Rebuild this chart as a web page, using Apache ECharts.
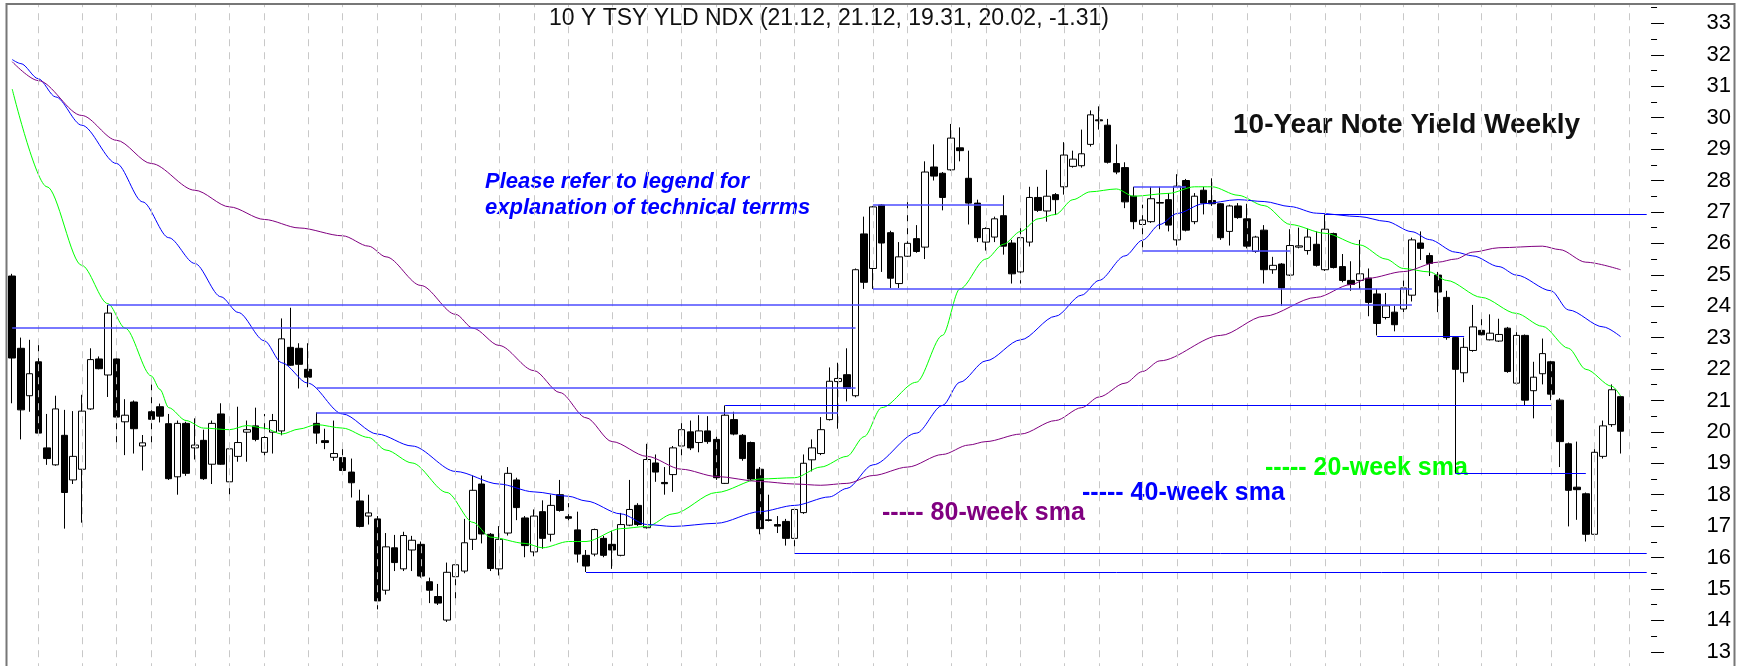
<!DOCTYPE html>
<html>
<head>
<meta charset="utf-8">
<title>10-Year Note Yield Weekly</title>
<script src="https://cdn.jsdelivr.net/npm/echarts@6/dist/echarts.min.js"></script>
<style>
    html, body { margin: 0; padding: 0; background: #fff; }
    #chart { width: 1737px; height: 666px; }
</style>
</head>
<body>
<div id="chart"></div>
<script>
// weekly bars, the first one is the week ending 2011-08-12
let firstWeek = Date.UTC(2011, 7, 12)
let emptyWeeks = 3 // free slots right of the last bar

let opens = [
    24.96, 22.66, 21.15, 22.23, 19.49, 18.95, 19.89, 18.47, 18.81, 20.73,
    22.32, 21.81, 22.32, 20.32, 20.95, 19.55, 20.64, 20.80, 20.26, 18.57,
    20.27, 19.49, 19.73, 18.97, 20.57, 18.41, 19.22, 19.99, 20.19, 19.35,
    19.99, 20.03, 22.69, 22.66, 21.99, 20.27, 19.72, 19.19, 19.18, 18.72,
    17.80, 17.32, 17.23, 14.96, 16.31, 15.64, 16.24, 16.42, 15.23, 14.76,
    14.01, 15.39, 15.57, 16.58, 18.34, 16.74, 15.64, 16.78, 18.47, 17.26,
    16.18, 17.46, 16.74, 18.00, 17.30, 16.88, 16.07, 16.11, 16.61, 16.42,
    16.07, 17.03, 17.66, 16.95, 19.01, 18.39, 18.64, 19.55, 20.00, 19.66,
    20.03, 19.76, 18.36, 20.39, 19.89, 19.66, 18.81, 17.20, 17.05, 17.15,
    16.61, 17.43, 19.11, 19.31, 20.39, 21.60, 21.82, 21.15, 26.30, 25.20,
    27.22, 26.34, 24.72, 25.59, 26.15, 25.88, 28.43, 28.23, 28.34, 29.04,
    28.07, 27.28, 26.04, 26.20, 26.88, 26.01, 25.09, 26.04, 27.46, 27.03,
    27.55, 27.80, 28.45, 28.47, 29.15, 29.93, 29.76, 28.54, 28.41, 27.50,
    26.60, 26.69, 27.28, 27.39, 26.11, 28.00, 26.69, 27.69, 27.36, 27.26,
    26.38, 27.19, 26.78, 25.74, 26.42, 25.16, 25.34, 24.99, 25.88, 25.77,
    25.97, 25.16, 26.31, 25.26, 24.82, 24.82, 24.89, 24.39, 23.64, 23.81,
    23.91, 24.35, 26.01, 25.61, 24.99, 24.28, 23.00, 21.88, 22.59, 23.23,
    22.93, 22.89, 23.30, 21.55, 23.07, 21.31, 21.85, 22.23, 21.01, 19.62,
    18.24, 18.03, 16.74, 19.22, 20.23, 21.12
]
let highs = [
    25.03, 23.00, 22.93, 22.93, 20.57, 21.15, 20.70, 20.66, 21.18, 22.66,
    22.40, 24.04, 22.35, 21.04, 21.00, 19.90, 21.51, 20.90, 20.57, 20.36,
    20.32, 20.43, 20.07, 20.36, 20.91, 19.55, 20.80, 20.36, 20.77, 20.57,
    20.57, 23.61, 23.95, 22.82, 22.82, 20.62, 20.10, 20.36, 19.58, 19.15,
    18.16, 18.00, 17.32, 16.78, 16.72, 16.82, 16.69, 16.51, 15.36, 15.16,
    15.84, 15.90, 17.23, 18.61, 18.61, 16.78, 17.00, 18.88, 18.54, 17.32,
    17.53, 17.82, 18.00, 18.47, 17.73, 17.46, 16.24, 16.92, 16.69, 16.85,
    17.42, 18.47, 17.73, 19.62, 19.28, 18.88, 19.55, 20.34, 20.36, 20.53,
    20.50, 19.85, 20.84, 20.64, 19.93, 19.69, 18.88, 18.00, 17.32, 17.23,
    17.55, 19.28, 19.76, 20.47, 22.05, 22.20, 22.66, 25.20, 26.85, 27.19,
    27.25, 26.40, 26.04, 27.32, 26.58, 28.61, 29.15, 28.27, 29.80, 29.69,
    28.95, 27.39, 26.51, 26.85, 27.53, 26.11, 26.60, 27.80, 27.80, 28.34,
    27.60, 29.22, 28.95, 29.62, 30.23, 30.36, 29.96, 29.15, 28.58, 27.80,
    27.23, 27.80, 27.80, 27.60, 28.20, 28.05, 27.60, 27.80, 28.07, 27.28,
    27.23, 27.28, 27.26, 26.24, 26.58, 25.57, 25.37, 26.45, 26.50, 26.47,
    26.38, 26.92, 26.34, 25.66, 25.43, 26.11, 25.20, 24.55, 24.42, 24.01,
    24.82, 26.18, 26.38, 25.70, 25.09, 24.49, 23.05, 23.00, 24.04, 23.74,
    23.74, 23.60, 23.34, 23.31, 23.10, 22.23, 22.97, 22.26, 21.07, 19.66,
    19.69, 18.07, 19.49, 20.36, 21.51, 21.12
]
let lows = [
    20.91, 19.76, 20.64, 19.93, 18.95, 18.92, 16.92, 18.34, 17.11, 20.70,
    21.99, 21.11, 19.55, 19.26, 19.31, 18.77, 19.49, 20.30, 18.47, 18.00,
    18.60, 19.12, 18.47, 18.34, 18.95, 17.96, 19.05, 19.05, 19.70, 19.05,
    19.31, 19.89, 22.10, 21.38, 21.42, 19.62, 19.45, 19.08, 18.72, 17.91,
    16.96, 17.05, 14.35, 14.82, 15.57, 15.57, 15.57, 15.36, 14.55, 14.49,
    13.95, 14.49, 15.50, 16.24, 16.45, 15.57, 15.43, 16.70, 17.19, 16.01,
    16.04, 16.28, 16.51, 17.46, 16.99, 15.84, 15.54, 16.04, 16.01, 15.64,
    16.04, 17.00, 17.00, 16.92, 18.41, 18.00, 18.09, 19.22, 19.42, 19.35,
    19.62, 18.47, 18.34, 19.89, 19.08, 18.47, 16.74, 17.15, 16.78, 16.38,
    16.14, 17.39, 18.74, 19.26, 20.36, 20.10, 20.97, 21.10, 24.55, 24.55,
    25.09, 24.58, 24.58, 25.57, 25.70, 25.50, 28.00, 27.05, 28.31, 28.61,
    26.60, 26.04, 25.77, 26.04, 25.64, 24.72, 24.72, 25.90, 27.00, 26.69,
    26.90, 27.55, 28.41, 28.41, 29.08, 29.62, 28.54, 28.20, 27.12, 26.45,
    25.77, 26.65, 26.45, 26.38, 25.93, 26.38, 26.61, 26.92, 27.19, 26.11,
    25.93, 26.78, 25.84, 25.70, 24.72, 25.03, 24.01, 24.96, 25.84, 25.64,
    25.26, 25.12, 25.20, 24.76, 24.49, 24.55, 23.68, 23.07, 23.58, 23.20,
    23.81, 24.15, 25.47, 24.96, 23.81, 22.93, 18.68, 21.58, 22.55, 23.07,
    22.91, 22.86, 21.88, 21.51, 20.84, 20.43, 21.51, 21.01, 18.88, 16.99,
    17.20, 16.51, 16.55, 19.15, 20.16, 19.31
]
let closes = [
    22.35, 20.70, 21.85, 19.96, 19.15, 20.73, 18.07, 19.22, 20.66, 22.30,
    22.01, 23.78, 20.47, 20.53, 20.10, 19.65, 20.40, 20.50, 18.51, 20.27,
    18.68, 19.58, 18.51, 20.27, 18.97, 19.46, 19.66, 20.07, 19.76, 19.82,
    20.36, 22.96, 22.12, 22.15, 21.74, 19.96, 19.66, 19.31, 18.77, 18.38,
    16.99, 17.42, 14.62, 16.34, 15.84, 16.70, 16.55, 15.41, 14.96, 14.55,
    15.53, 15.77, 16.47, 18.14, 16.75, 15.65, 16.58, 18.68, 17.59, 16.38,
    17.32, 16.61, 17.66, 17.50, 17.25, 16.11, 15.73, 16.89, 16.07, 16.24,
    17.05, 17.53, 17.05, 19.12, 18.72, 18.35, 19.49, 20.07, 19.49, 20.03,
    19.69, 18.54, 20.53, 19.93, 19.15, 18.50, 16.92, 17.18, 17.00, 16.61,
    17.53, 19.00, 19.49, 20.07, 21.61, 21.70, 21.38, 25.16, 24.76, 27.16,
    26.01, 24.89, 25.57, 26.00, 25.74, 28.27, 28.14, 27.46, 29.35, 28.95,
    27.28, 26.18, 26.47, 26.78, 25.91, 25.03, 26.18, 27.46, 27.05, 27.50,
    27.39, 28.81, 28.68, 28.85, 30.09, 29.90, 28.58, 28.27, 27.32, 26.69,
    26.74, 27.42, 27.30, 26.58, 27.82, 26.42, 27.50, 27.28, 27.26, 26.18,
    27.19, 26.82, 25.91, 26.20, 25.16, 25.30, 24.58, 25.93, 25.92, 26.20,
    25.30, 26.45, 25.23, 24.82, 24.69, 25.03, 24.12, 23.45, 24.01, 23.41,
    24.58, 26.11, 25.84, 25.36, 24.45, 23.00, 21.99, 22.69, 23.34, 23.09,
    23.14, 23.10, 21.92, 23.07, 21.01, 21.74, 22.49, 21.20, 19.69, 18.14,
    18.16, 16.74, 19.35, 20.19, 21.34, 20.02
]

// moving averages: [bar index, value]
let sma20 = [
    [0, 30.91], [4, 27.8], [8, 25.3], [11, 24.08], [13, 23.3], [16, 21.78], [17, 21.35], [18, 20.77],
    [20, 20.36], [22, 20.12], [25, 20.07], [27, 20.2], [29, 20.12], [31, 19.93], [33, 20.09], [35, 20.23],
    [38, 20.12], [41, 19.82], [43, 19.42], [46, 19.01], [50, 18.07], [53, 17.12], [55, 16.65], [59, 16.45],
    [61, 16.31], [64, 16.51], [66, 16.51], [70, 16.92], [73, 16.99], [76, 17.39], [81, 18.07], [86, 18.5],
    [90, 18.54], [93, 18.88], [96, 19.22], [98, 19.85], [100, 20.77], [104, 21.58], [107, 23.07], [109, 24.55],
    [112, 25.5], [114, 25.97], [116, 26.38], [118, 26.78], [120, 26.92], [122, 27.39], [124, 27.64], [127, 27.73],
    [129, 27.5], [133, 27.59], [136, 27.8], [138, 27.8], [141, 27.53], [144, 27.2], [147, 26.6], [151, 26.32],
    [155, 25.95], [158, 25.5], [160, 25.2], [163, 25.09], [165, 24.82], [169, 24.28], [173, 23.77], [176, 23.36],
    [179, 22.66], [181, 21.99], [184, 21.45], [185, 21.14]
]
let sma40 = [
    [0, 31.85], [1, 31.72], [3, 31.24], [5, 30.66], [8, 29.76], [12, 28.54], [15, 27.32], [18, 26.18],
    [21, 25.36], [24, 24.3], [26, 23.8], [29, 22.9], [31, 22.2], [34, 21.55], [38, 20.57], [42, 19.93],
    [46, 19.55], [51, 18.74], [56, 18.34], [60, 18.09], [64, 17.95], [66, 17.8], [70, 17.39], [73, 17.05],
    [76, 16.99], [81, 17.09], [86, 17.46], [90, 17.66], [94, 17.93], [96, 18.2], [99, 18.95], [104, 19.96],
    [107, 20.84], [109, 21.58], [112, 22.26], [116, 22.93], [120, 23.68], [123, 24.35], [125, 24.82], [128, 25.6],
    [130, 26.1], [132, 26.6], [134, 26.95], [137, 27.26], [141, 27.39], [144, 27.33], [147, 27.17], [150, 26.96],
    [155, 26.85], [158, 26.7], [161, 26.37], [163, 26.12], [166, 25.72], [168, 25.6], [171, 25.26], [173, 24.99],
    [177, 24.49], [179, 23.88], [183, 23.34], [185, 23.03]
]
let sma80 = [
    [0, 31.78], [3, 31.18], [8, 30.07], [12, 29.28], [16, 28.54], [21, 27.69], [25, 27.16], [29, 26.76],
    [33, 26.49], [38, 26.24], [41, 25.91], [43, 25.57], [47, 24.66], [51, 23.74], [53, 23.3], [56, 22.75],
    [60, 21.95], [63, 21.25], [66, 20.45], [69, 19.69], [73, 19.22], [77, 18.81], [81, 18.58], [86, 18.42],
    [90, 18.34], [93, 18.3], [96, 18.36], [99, 18.61], [103, 18.88], [107, 19.28], [110, 19.58], [112, 19.69],
    [116, 19.93], [120, 20.36], [123, 20.77], [125, 21.11], [128, 21.55], [130, 21.92], [132, 22.26], [139, 23.07],
    [144, 23.68], [150, 24.28], [154, 24.69], [156, 24.89], [160, 25.1], [164, 25.4], [166, 25.5], [168, 25.72],
    [171, 25.86], [176, 25.91], [178, 25.8], [181, 25.4], [185, 25.16]
]

// support / resistance segments: [from bar, to bar, level]
let lastSlot = opens.length + emptyWeeks - 1
let levelsLight = [
    [0, 97, 23.32], [11, 161, 24.04], [35, 97, 21.39], [35, 95, 20.62],
    [99, 114, 27.22], [99, 161, 24.55], [129, 135, 27.8], [130, 147, 25.77]
]
let levelsDark = [
    [82, 177, 20.84], [66, lastSlot, 15.54], [90, lastSlot, 16.14],
    [151, lastSlot, 26.92], [157, 167, 23.03], [166, 181, 18.68]
]

// y axis range, ticks every unit
let yMin = 12
let yMax = 34
let yStep = 1

let titleText = '10 Y TSY YLD NDX (21.12, 21.12, 19.31, 20.02, -1.31)'
let font = '"Liberation Sans", Arial, sans-serif'

// categories: week-ending dates
let weeks = []
for (let i = 0; i < opens.length + emptyWeeks; i++) {
    weeks.push(new Date(firstWeek + i * 7 * 86400000).toISOString().slice(0, 10))
}

// a dashed grid line on the first week of each month
let monthStarts = []
for (let i = 1; i < weeks.length; i++) {
    if (weeks[i].slice(5, 7) !== weeks[i - 1].slice(5, 7)) monthStarts.push(weeks[i])
}

let candles = opens.map((o, i) => [o, closes[i], lows[i], highs[i]])

function segments(list) {
    return list.map(s => [{ coord: [weeks[s[0]], s[2]] }, { coord: [weeks[s[1]], s[2]] }])
}

function smaSeries(name, data, color) {
    return {
        name: name,
        type: 'line',
        data: data,
        smooth: 0.3,
        smoothMonotone: 'x',
        showSymbol: false,
        silent: true,
        z: 4,
        lineStyle: { color: color, width: 1 }
    }
}

function label(text, x, y, size, color, weight, style, align) {
    return {
        type: 'text',
        x: x,
        y: y,
        silent: true,
        style: {
            text: text,
            fill: color,
            font: (style || 'normal') + ' ' + (weight || 'normal') + ' ' + size + 'px ' + font,
            align: align || 'left',
            verticalAlign: 'middle'
        }
    }
}

let chart = echarts.init(document.getElementById('chart'))

let option = {
    animation: false,
    backgroundColor: '#fff',
    grid: {
        left: 7.85,
        width: 1643.2,
        top: 23.4 - (yMax - 33) * 31.42,
        height: (yMax - yMin) * 31.42,
        containLabel: false,
        outerBoundsMode: 'none'
    },
    xAxis: {
        type: 'category',
        data: weeks,
        boundaryGap: true,
        axisLine: { show: false },
        axisTick: { show: false },
        axisLabel: { show: false },
        splitLine: { show: false }
    },
    yAxis: {
        type: 'value',
        position: 'right',
        min: yMin,
        max: yMax,
        interval: yStep,
        axisLine: { show: false },
        splitLine: { show: false },
        axisTick: { show: true, length: 13, lineStyle: { color: '#000', width: 1 } },
        minorTick: { show: true, splitNumber: 2, length: 6, lineStyle: { color: '#000', width: 1 } },
        axisLabel: {
            margin: 80,
            align: 'right',
            color: '#000',
            fontSize: 22,
            fontFamily: font,
            formatter: function (v) {
                if (v < 13 || v > 33) return ''
                return String(v)
            }
        }
    },
    series: [
        {
            // month grid lines
            type: 'line',
            data: [],
            silent: true,
            z: 1,
            markLine: {
                silent: true,
                animation: false,
                symbol: ['none', 'none'],
                label: { show: false },
                lineStyle: { color: '#c8c8c8', type: [7, 6], width: 1 },
                data: monthStarts.map(w => ({ xAxis: w }))
            }
        },
        {
            name: '10 Y TSY YLD NDX',
            type: 'candlestick',
            data: candles,
            barWidth: 7,
            z: 3,
            silent: true,
            itemStyle: {
                color: '#ffffff',
                color0: '#000000',
                borderColor: '#000000',
                borderColor0: '#000000',
                borderWidth: 1
            }
        },
        smaSeries('20-week sma', sma20, '#00ff00'),
        smaSeries('40-week sma', sma40, '#0000ff'),
        smaSeries('80-week sma', sma80, '#800080'),
        {
            type: 'line',
            data: [],
            silent: true,
            z: 5,
            markLine: {
                silent: true,
                animation: false,
                symbol: ['none', 'none'],
                label: { show: false },
                lineStyle: { color: '#4d4dff', type: 'solid', width: 1.5 },
                data: segments(levelsLight)
            }
        },
        {
            type: 'line',
            data: [],
            silent: true,
            z: 5,
            markLine: {
                silent: true,
                animation: false,
                symbol: ['none', 'none'],
                label: { show: false },
                lineStyle: { color: '#0000ff', type: 'solid', width: 1 },
                data: segments(levelsDark)
            }
        }
    ],
    graphic: [
        { type: 'rect', silent: true, z: 90, shape: { x: 0, y: 0, width: 1737, height: 3 }, style: { fill: '#fff' } },
        {
            type: 'rect',
            silent: true,
            z: 100,
            shape: { x: 6.5, y: 4, width: 1728, height: 670 },
            style: { fill: 'none', stroke: '#777', lineWidth: 2 }
        },
        label(titleText, 829, 19, 23, '#111', null, null, 'center'),
        label('10-Year Note Yield Weekly', 1233, 125, 28, '#111', 'bold'),
        label('Please refer to legend for', 485, 182, 22, '#0000ff', 'bold', 'italic'),
        label('explanation of technical terrms', 485, 208, 22, '#0000ff', 'bold', 'italic'),
        label('----- 80-week sma', 882, 513, 25, '#800080', 'bold'),
        label('----- 40-week sma', 1082, 493, 25, '#0000ff', 'bold'),
        label('----- 20-week sma', 1265, 468, 25, '#00ff00', 'bold')
    ]
}

chart.setOption(option)
</script>
</body>
</html>
